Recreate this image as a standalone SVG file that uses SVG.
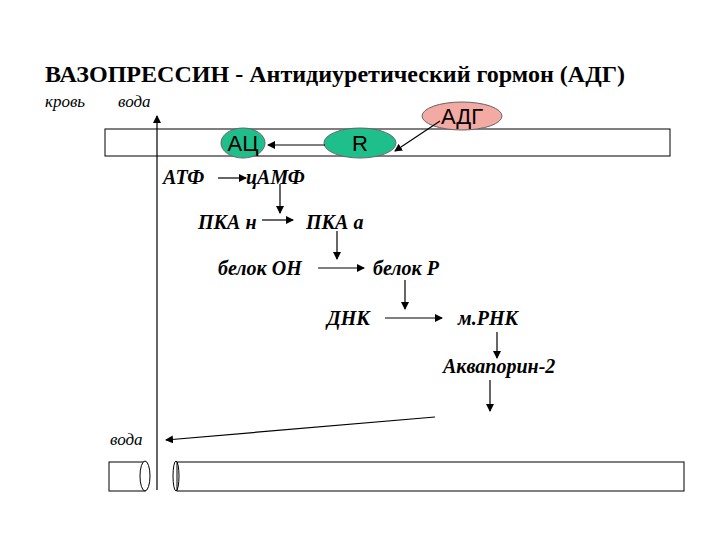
<svg xmlns="http://www.w3.org/2000/svg" width="720" height="540" viewBox="0 0 720 540">
<defs><marker id="a" markerWidth="8" markerHeight="8" refX="7" refY="4" orient="auto" markerUnits="userSpaceOnUse"><path d="M0,0 L8,4 L0,8 z" fill="#000"/></marker></defs>
<style>
.h{font-family:"Liberation Serif","DejaVu Serif",serif;font-weight:bold;font-size:22.5px}
.t{font-family:"Liberation Serif",serif;font-style:italic;font-weight:bold;font-size:20px}
.s{font-family:"Liberation Serif",serif;font-style:italic;font-size:17px}
.e{font-family:"Liberation Sans",sans-serif;font-size:22px}
line{stroke:#000;stroke-width:1.2}
</style>
<rect width="720" height="540" fill="#fff"/>
<text class="h" x="45" y="82" textLength="580" lengthAdjust="spacingAndGlyphs">ВАЗОПРЕССИН - Антидиуретический гормон (АДГ)</text>
<text class="s" x="45" y="107">кровь</text>
<text class="s" x="118" y="107">вода</text>
<rect x="105" y="129" width="565" height="27" fill="none" stroke="#000"/>
<g id="adh"><ellipse cx="462" cy="116" rx="40" ry="14" fill="#f2aaa2" stroke="#666"/><text class="e" x="462" y="124" text-anchor="middle">АДГ</text></g>
<g id="ac"><ellipse cx="243" cy="143" rx="22" ry="15" fill="#1fbf8c" stroke="#666"/><text class="e" x="243" y="151" text-anchor="middle">АЦ</text></g>
<g id="r"><ellipse cx="360" cy="143" rx="36" ry="15" fill="#1fbf8c" stroke="#666"/><text class="e" x="360" y="151" text-anchor="middle">R</text></g>
<g id="texts">
<text class="t" x="163" y="184">АТФ</text>
<text class="t" x="246" y="184">цАМФ</text>
<text class="t" x="198" y="229">ПКА н</text>
<text class="t" x="306" y="229">ПКА а</text>
<text class="t" x="218" y="275">белок ОН</text>
<text class="t" x="373" y="275">белок Р</text>
<text class="t" x="327" y="325">ДНК</text>
<text class="t" x="458" y="325">м.РНК</text>
<text class="t" x="443" y="373">Аквапорин-2</text>
<text class="s" x="110" y="445">вода</text>
</g>
<g id="connectors" fill="none">
<line x1="157" y1="490" x2="157" y2="116" stroke-width="2" marker-end="url(#a)"/>
<line x1="440" y1="121" x2="395" y2="151" marker-end="url(#a)"/>
<line x1="325" y1="145" x2="268" y2="145" stroke-width="2" marker-end="url(#a)"/>
<line x1="218" y1="178" x2="246" y2="178" marker-end="url(#a)"/>
<line x1="280" y1="184" x2="280" y2="213" marker-end="url(#a)"/>
<line x1="262" y1="220" x2="293" y2="220" marker-end="url(#a)"/>
<line x1="337" y1="231" x2="337" y2="259" marker-end="url(#a)"/>
<line x1="318" y1="268" x2="364" y2="268" marker-end="url(#a)"/>
<line x1="405" y1="280" x2="405" y2="309" marker-end="url(#a)"/>
<line x1="385" y1="318" x2="442" y2="318" marker-end="url(#a)"/>
<line x1="497" y1="332" x2="497" y2="358" marker-end="url(#a)"/>
<line x1="490" y1="380" x2="490" y2="411" marker-end="url(#a)"/>
<line x1="435" y1="417" x2="166" y2="440" stroke-width="1.8" marker-end="url(#a)"/>
</g>
<g id="channel" fill="none" stroke="#000">
<rect x="109" y="462" width="36" height="29"/>
<ellipse cx="145" cy="476" rx="5" ry="15" fill="#fff"/>
<ellipse cx="176" cy="476" rx="3" ry="15"/>
<rect x="177" y="462" width="507" height="29"/>
</g>
</svg>
